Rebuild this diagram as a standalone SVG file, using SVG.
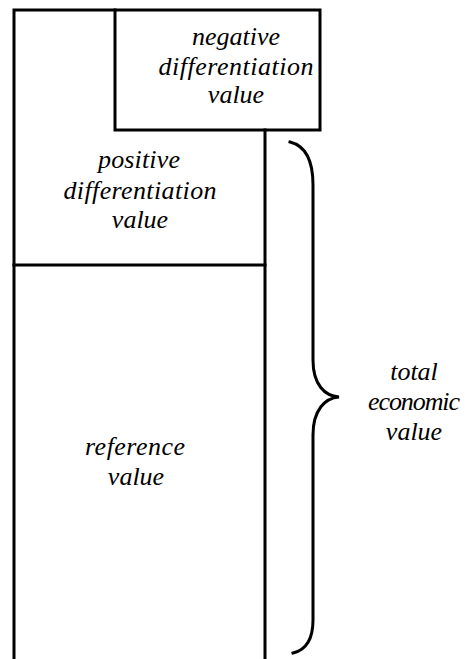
<svg xmlns="http://www.w3.org/2000/svg" width="465" height="659" viewBox="0 0 465 659">
<style>
.ln{fill:none;stroke:#000;stroke-width:3;stroke-linecap:square}
.t{font-family:"Liberation Serif",serif;font-style:italic;font-size:26px;fill:#000;text-anchor:middle}
</style>
<rect width="465" height="659" fill="#fff"/>
<g id="column">
<path class="ln" d="M14,10 H115 M14,10 V659 M265,130 V659"/>
</g>
<g id="negative">
<rect class="ln" x="115" y="10" width="205" height="120"/>
<text class="t" x="236" y="45" textLength="88">negative</text>
<text class="t" x="236" y="75" textLength="155">differentiation</text>
<text class="t" x="236" y="103">value</text>
</g>
<g id="positive">
<path class="ln" d="M14,265 H265"/>
<text class="t" x="139" y="168" textLength="82">positive</text>
<text class="t" x="140" y="199" textLength="153">differentiation</text>
<text class="t" x="140" y="228">value</text>
</g>
<g id="reference">
<text class="t" x="135" y="455" textLength="100">reference</text>
<text class="t" x="136" y="485">value</text>
</g>
<g id="connectors">
<path class="ln" d="M290,142 C306,146 313,160 313,185 V360 C313,385 325,396 339,397 C325,398 313,410 313,435 V620 C313,640 306,650 293,653"/>
</g>
<g id="total">
<text class="t" x="414" y="380">total</text>
<text class="t" x="414" y="410" textLength="92">economic</text>
<text class="t" x="414" y="440">value</text>
</g>
</svg>
